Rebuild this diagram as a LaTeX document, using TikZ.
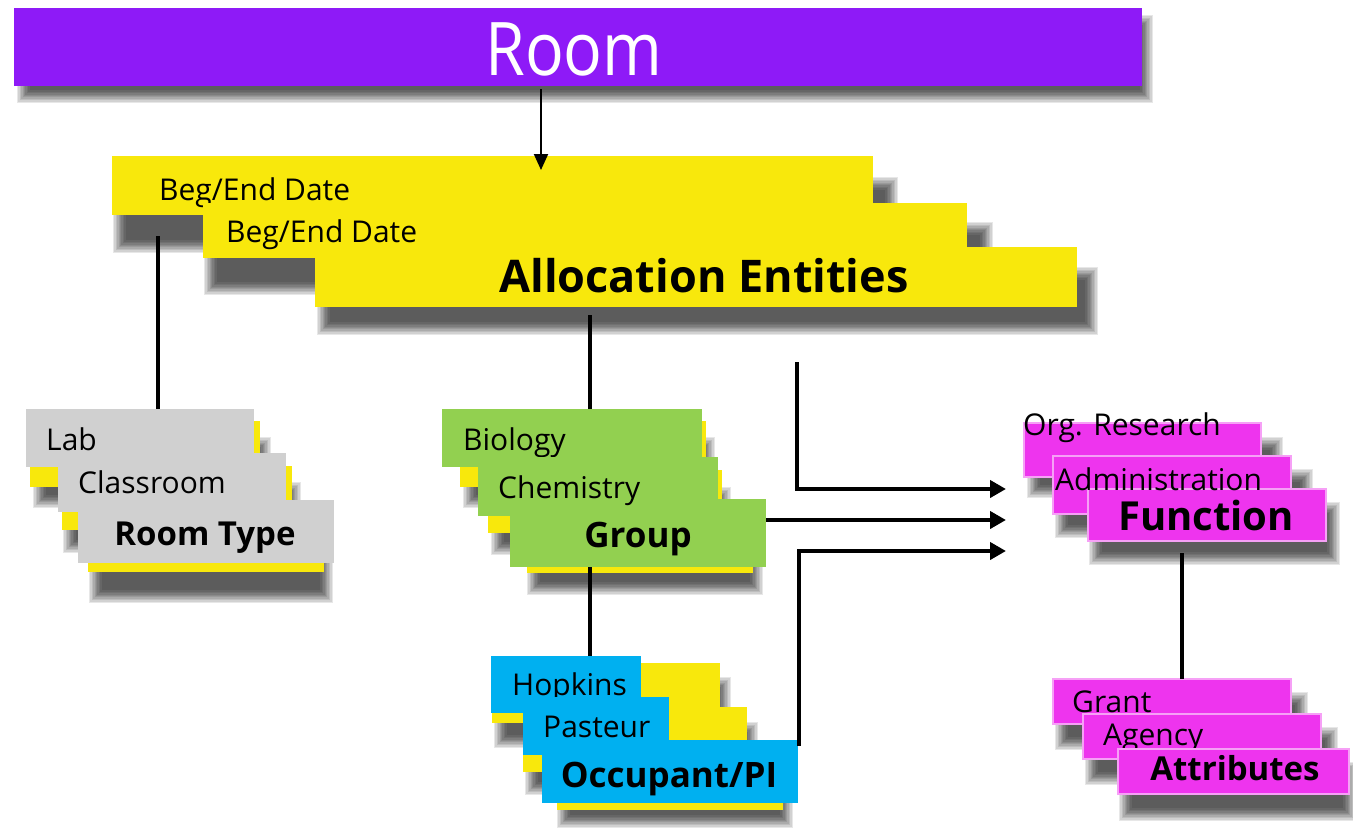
\documentclass[tikz,border=0pt]{standalone}
\usepackage{fontspec}
\setmainfont{Open Sans}
\usetikzlibrary{arrows.meta,fit,calc}
\definecolor{roompurple}{RGB}{142,26,247}
\definecolor{bary}{RGB}{248,232,12}
\definecolor{boxgray}{RGB}{208,208,208}
\definecolor{boxgreen}{RGB}{146,208,80}
\definecolor{boxblue}{RGB}{0,176,240}
\definecolor{boxmag}{RGB}{238,52,238}
\definecolor{magedge}{RGB}{246,160,246}
\newcommand\softshadow[4]{\foreach \k in {0,...,9}{\fill[black,opacity=0.095] (#1-3+1.4*\k,#2-3+1.4*\k) rectangle (#3+3-1.4*\k,#4+3-1.4*\k);}}
\tikzset{
  fb/.style={inner sep=0pt, outer sep=0pt},
  ybar/.style={fb, fill=bary},
  gbox/.style={fb, fill=boxgray},
  grbox/.style={fb, fill=boxgreen},
  blbox/.style={fb, fill=boxblue},
  mgbox/.style={fb, fill=boxmag, draw=magedge, line width=2pt},
  txt/.style={inner sep=0pt, anchor=base west, font=\fontsize{30}{34}\selectfont},
  conn/.style={line width=4.5pt},
  harrow/.style={line width=4.5pt, -{Triangle[length=16pt,width=17pt]}},
}
\begin{document}
\begin{tikzpicture}[x=1pt,y=-1pt]
\useasboundingbox (0,0) rectangle (1353,828);
\fill[white] (0,0) rectangle (1353,828);
% Room
\softshadow{20}{18}{1150}{100}
\node[fb, fill=roompurple, fit={(14,8) (1142,86)}] (room) {};
\node[inner sep=0pt, anchor=base, text=white, font=\fontsize{74}{80}\selectfont] (roomt) at (574,75) {\scalebox{0.87}[1]{Room}};
% Allocation stack
\softshadow{116}{180}{895}{250}
\node[ybar, fit={(112,156) (873,215)}] (a1) {};
\node[txt] (a1t) at (159,200) {Beg/End Date};
\softshadow{207}{225}{990}{292}
\node[ybar, fit={(203,203) (967,258)}] (a2) {};
\node[txt] (a2t) at (226,242) {Beg/End Date};
\softshadow{320}{270}{1095}{332}
\node[ybar, fit={(315,247) (1077,307)}] (a3) {};
\node[inner sep=0pt, anchor=base, font=\bfseries\fontsize{45}{50}\selectfont] (a3t) at (704,292) {Allocation Entities};
% Room type stack
\softshadow{36}{440}{268}{505}
\node[ybar, fit={(30,421) (260,487)}] (ry1) {};
\node[gbox, fit={(26,409) (254,467)}] (r1) {};
\node[txt] (r1t) at (46,450) {Lab};
\softshadow{66}{485}{298}{550}
\node[ybar, fit={(62,466) (292,530)}] (ry2) {};
\node[gbox, fit={(58,453) (286,512)}] (r2) {};
\node[txt] (r2t) at (78,493) {Classroom};
\softshadow{92}{530}{330}{600}
\node[ybar, fit={(88,512) (324,572)}] (ry3) {};
\node[gbox, fit={(78,500) (334,563)}] (r3) {};
\node[inner sep=0pt, anchor=base, font=\bfseries\fontsize{33}{36}\selectfont] (r3t) at (205,545) {Room Type};
% Group stack
\softshadow{466}{440}{712}{505}
\node[ybar, fit={(460,421) (706,487)}] (gy1) {};
\node[grbox, fit={(442,409) (702,467)}] (b1) {};
\node[txt] (b1t) at (463,450) {Biology};
\softshadow{494}{490}{728}{552}
\node[ybar, fit={(488,470) (722,533)}] (gy2) {};
\node[grbox, fit={(478,457) (718,516)}] (b2) {};
\softshadow{530}{530}{760}{592}
\node[ybar, fit={(527,512) (753,573)}] (gy3) {};
\node[grbox, fit={(510,499) (766,567)}] (b3) {};
\node[txt] (b2t) at (498,498) {Chemistry};
\node[inner sep=0pt, anchor=base, font=\bfseries\fontsize{35}{38}\selectfont] (b3t) at (638,547) {Group};
% Occupant stack
\softshadow{497}{680}{728}{745}
\node[ybar, fit={(492,663) (720,723)}] (oy1) {};
\node[blbox, fit={(491,656) (641,713)}] (o1) {};
\node[txt] (o1t) at (512,695) {Hopkins};
\softshadow{528}{725}{755}{792}
\node[ybar, fit={(523,707) (747,772)}] (oy2) {};
\node[blbox, fit={(523,697) (669,755)}] (o2) {};
\node[txt] (o2t) at (543,737) {Pasteur};
\softshadow{560}{770}{790}{825}
\node[ybar, fit={(557,750) (783,810)}] (oy3) {};
\node[blbox, fit={(542,740) (798,803)}] (o3) {};
\node[inner sep=0pt, anchor=base, font=\bfseries\fontsize{35}{38}\selectfont] (o3t) at (669,787) {Occupant/PI};
% Function stack
\softshadow{1030}{440}{1280}{495}
\node[mgbox, fit={(1024,423) (1261,477)}] (f1) {};
\softshadow{1058}{472}{1310}{535}
\node[mgbox, fit={(1053,456) (1291,514)}] (f2) {};
\node[txt] (f1t) at (1023,435) {Org. Research};
\softshadow{1092}{505}{1337}{562}
\node[mgbox, fit={(1088,489) (1326,541)}] (f3) {};
\node[txt] (f2t) at (1055,490) {Administration};
\node[inner sep=0pt, anchor=base, font=\bfseries\fontsize{40}{44}\selectfont] (f3t) at (1206,530) {Function};
% Attributes stack
\softshadow{1058}{695}{1305}{747}
\node[mgbox, fit={(1053,679) (1291,724)}] (t1) {};
\node[txt] (t1t) at (1072,712) {Grant};
\softshadow{1088}{730}{1335}{782}
\node[mgbox, fit={(1083,714) (1321,759)}] (t2) {};
\node[txt] (t2t) at (1103,745) {Agency};
\softshadow{1122}{765}{1353}{818}
\node[mgbox, fit={(1118,749) (1349,794)}] (t3) {};
\node[inner sep=0pt, anchor=base, font=\bfseries\fontsize{33}{36}\selectfont] (t3t) at (1235,780) {Attributes};
% connectors
\coordinate (rt) at (541,170);
\coordinate (c1) at (158,236);
\coordinate (c2) at (590,315);
\coordinate (c3) at (797,362);
\coordinate (c4) at (799,746);
\coordinate (c5) at (1182,553);
\coordinate (ar1) at (1006,489);
\coordinate (ar2) at (1006,520);
\coordinate (ar3) at (1006,551);
\draw[line width=2pt, -{Triangle[length=16pt,width=14pt]}] (room.south -| rt) ++(0,3) -- (rt);
\draw[conn] (c1) -- (c1 |- r1.north);
\draw[conn] (c2) -- (c2 |- b1.north);
\draw[conn] (c2 |- b3.south) -- (c2 |- o1.north);
\draw[harrow] (c3) |- (ar1);
\draw[harrow] (ar2 -| b3.east) -- (ar2);
\draw[harrow] (c4) |- (ar3);
\draw[conn] (c5) -- (c5 |- t1.north);
\end{tikzpicture}
\end{document}
